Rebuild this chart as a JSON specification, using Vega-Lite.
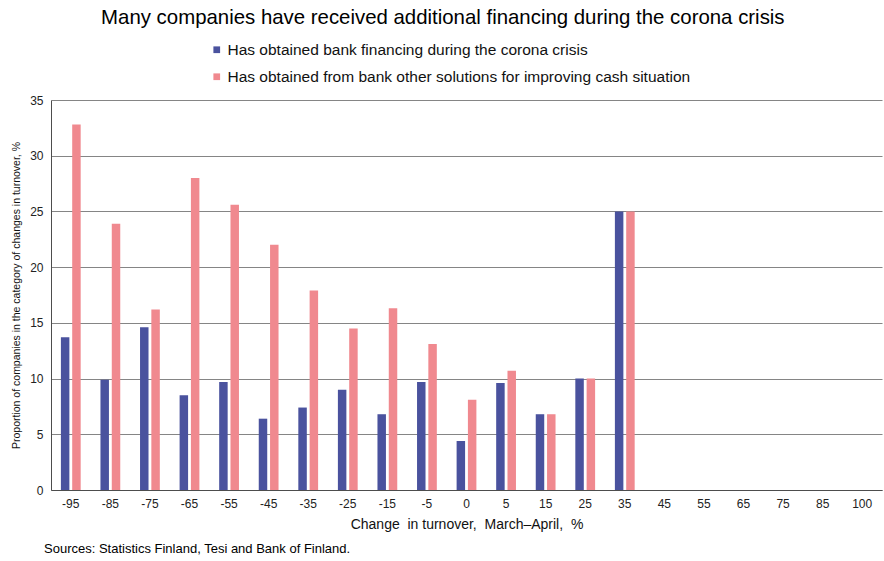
{
  "$schema": "https://vega.github.io/schema/vega-lite/v6.json",
  "background": "white",
  "padding": {"left": 11, "top": 7, "right": 1, "bottom": 0},
  "title": {
    "text": "Many companies have received additional financing during the corona crisis",
    "font": "Liberation Sans",
    "fontSize": 20.4,
    "fontWeight": "normal",
    "color": "#000000",
    "anchor": "middle",
    "dx": -4,
    "offset": 14
  },
  "vconcat": [
    {
      "width": 831,
      "height": 390,
      "title": {
        "text": "Sources: Statistics Finland, Tesi and Bank of Finland.",
        "orient": "bottom",
        "anchor": "start",
        "frame": "group",
        "dx": -7,
        "offset": 12,
        "font": "Liberation Sans",
        "fontSize": 13,
        "fontWeight": "normal",
        "color": "#000000"
      },
      "data": {
        "values": [
          {"change": "-95", "series": "Has obtained bank financing during the corona crisis", "value": 13.7},
          {"change": "-85", "series": "Has obtained bank financing during the corona crisis", "value": 9.9},
          {"change": "-75", "series": "Has obtained bank financing during the corona crisis", "value": 14.6},
          {"change": "-65", "series": "Has obtained bank financing during the corona crisis", "value": 8.5},
          {"change": "-55", "series": "Has obtained bank financing during the corona crisis", "value": 9.7},
          {"change": "-45", "series": "Has obtained bank financing during the corona crisis", "value": 6.4},
          {"change": "-35", "series": "Has obtained bank financing during the corona crisis", "value": 7.4},
          {"change": "-25", "series": "Has obtained bank financing during the corona crisis", "value": 9.0},
          {"change": "-15", "series": "Has obtained bank financing during the corona crisis", "value": 6.8},
          {"change": "-5", "series": "Has obtained bank financing during the corona crisis", "value": 9.7},
          {"change": "0", "series": "Has obtained bank financing during the corona crisis", "value": 4.4},
          {"change": "5", "series": "Has obtained bank financing during the corona crisis", "value": 9.6},
          {"change": "15", "series": "Has obtained bank financing during the corona crisis", "value": 6.8},
          {"change": "25", "series": "Has obtained bank financing during the corona crisis", "value": 10.0},
          {"change": "35", "series": "Has obtained bank financing during the corona crisis", "value": 25.0},
          {"change": "-95", "series": "Has obtained from bank other solutions for improving cash situation", "value": 32.8},
          {"change": "-85", "series": "Has obtained from bank other solutions for improving cash situation", "value": 23.9},
          {"change": "-75", "series": "Has obtained from bank other solutions for improving cash situation", "value": 16.2},
          {"change": "-65", "series": "Has obtained from bank other solutions for improving cash situation", "value": 28.0},
          {"change": "-55", "series": "Has obtained from bank other solutions for improving cash situation", "value": 25.6},
          {"change": "-45", "series": "Has obtained from bank other solutions for improving cash situation", "value": 22.0},
          {"change": "-35", "series": "Has obtained from bank other solutions for improving cash situation", "value": 17.9},
          {"change": "-25", "series": "Has obtained from bank other solutions for improving cash situation", "value": 14.5},
          {"change": "-15", "series": "Has obtained from bank other solutions for improving cash situation", "value": 16.3},
          {"change": "-5", "series": "Has obtained from bank other solutions for improving cash situation", "value": 13.1},
          {"change": "0", "series": "Has obtained from bank other solutions for improving cash situation", "value": 8.1},
          {"change": "5", "series": "Has obtained from bank other solutions for improving cash situation", "value": 10.7},
          {"change": "15", "series": "Has obtained from bank other solutions for improving cash situation", "value": 6.8},
          {"change": "25", "series": "Has obtained from bank other solutions for improving cash situation", "value": 10.0},
          {"change": "35", "series": "Has obtained from bank other solutions for improving cash situation", "value": 25.0}
        ]
      },
      "mark": {"type": "bar"},
      "encoding": {
        "x": {
          "field": "change",
          "type": "nominal",
          "sort": null,
          "scale": {
            "domain": ["-95", "-85", "-75", "-65", "-55", "-45", "-35", "-25", "-15", "-5", "0", "5", "15", "25", "35", "45", "55", "65", "75", "85", "100"],
            "paddingInner": 0.5,
            "paddingOuter": 0.25
          },
          "axis": {
            "title": "Change\u00a0 in turnover,\u00a0 March–April,\u00a0 %",
            "labelAngle": 0,
            "labelFontSize": 12,
            "ticks": false,
            "labelPadding": 8,
            "titlePadding": 8,
            "titleFontSize": 14,
            "domainColor": "#4d4d4d",
            "domainWidth": 1
          }
        },
        "xOffset": {
          "field": "series",
          "type": "nominal",
          "sort": null,
          "scale": {"paddingInner": 0.25}
        },
        "y": {
          "field": "value",
          "type": "quantitative",
          "scale": {"domain": [0, 35], "nice": false},
          "axis": {
            "title": "Proportion of companies in the category of changes in turnover, %",
            "values": [0, 5, 10, 15, 20, 25, 30, 35],
            "ticks": false,
            "labelFontSize": 12,
            "labelPadding": 8,
            "titlePadding": 8,
            "grid": true,
            "gridColor": "#858585",
            "gridWidth": 1,
            "domainColor": "#4d4d4d",
            "titleFontSize": 10.5
          }
        },
        "color": {
          "field": "series",
          "type": "nominal",
          "sort": null,
          "scale": {
            "domain": ["Has obtained bank financing during the corona crisis", "Has obtained from bank other solutions for improving cash situation"],
            "range": ["#4a529e", "#f0898f"]
          },
          "legend": {
            "orient": "none",
            "legendX": 158,
            "legendY": -58,
            "direction": "vertical",
            "title": null,
            "symbolType": "square",
            "symbolSize": 45,
            "labelFontSize": 15.5,
            "labelOffset": 3,
            "rowPadding": 10,
            "labelLimit": 700
          }
        }
      }
    }
  ],
  "config": {
    "font": "Liberation Sans",
    "view": {"stroke": null},
    "axis": {
      "labelFont": "Liberation Sans",
      "labelColor": "#222222",
      "titleFont": "Liberation Sans",
      "titleFontWeight": "normal",
      "titleColor": "#111111"
    },
    "legend": {
      "labelFont": "Liberation Sans",
      "labelColor": "#111111"
    }
  }
}
